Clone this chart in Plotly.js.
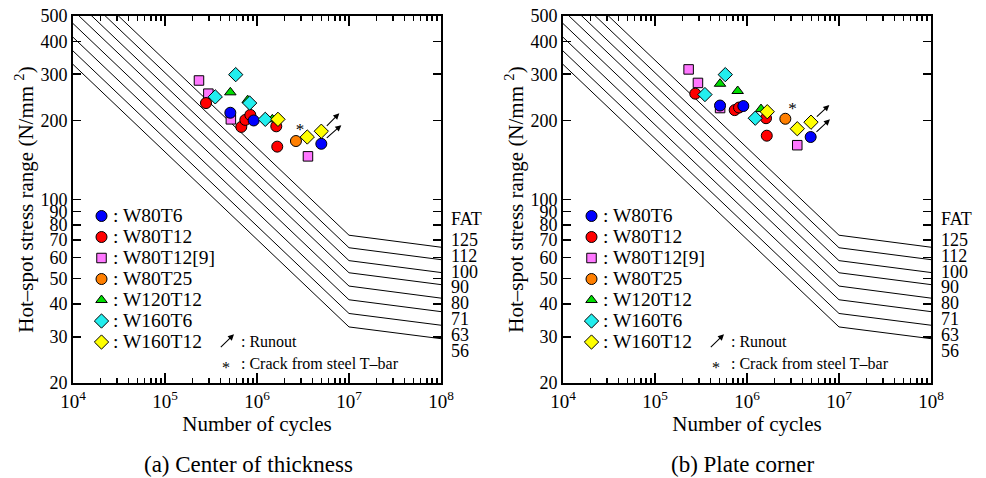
<!DOCTYPE html>
<html><head><meta charset="utf-8">
<script src="https://cdn.plot.ly/plotly-3.0.1.min.js"></script>
<style>html,body{margin:0;padding:0;background:#fff}</style>
</head><body><div id="chart" style="width:986px;height:478px"></div>
<script>
// ---------- data ----------
const seriesNames = ['W80T6','W80T12','W80T12[9]','W80T25','W120T12','W160T6','W160T12'];
// (a) Center of thickness
const a_W80T6_N   = [5.13e5, 9.2e5, 5.0e6];
const a_W80T6_S   = [214, 200, 163];
const a_W80T12_N  = [2.79e5, 6.75e5, 7.46e5, 8.46e5, 1.62e6, 1.66e6];
const a_W80T12_S  = [233, 189, 201, 210, 190, 159];
const a_W80T12r_N = [2.34e5, 2.96e5, 5.2e5, 3.58e6];
const a_W80T12r_S = [284, 253, 202, 146];
const a_W80T25_N  = [2.65e6];
const a_W80T25_S  = [167];
const a_W120T12_N = [5.13e5, 7.92e5, 1.47e6];
const a_W120T12_S = [256, 239, 202];
const a_W160T6_N  = [3.52e5, 5.87e5, 8.32e5, 1.23e6];
const a_W160T6_S  = [246, 299, 233, 202];
const a_W160T12_N = [1.69e6, 3.52e6, 5.0e6];
const a_W160T12_S = [202, 173, 182];
const a_runoutN = [7.85e6, 8.25e6];
const a_runoutS = [213, 192];
const a_crackN = [2.93e6];
const a_crackS = [183.5];
// (b) Plate corner
const b_W80T6_N   = [5.09e5, 9.12e5, 4.92e6];
const b_W80T6_S   = [228, 227, 173];
const b_W80T12_N  = [2.74e5, 7.35e5, 8.19e5, 1.61e6, 1.64e6];
const b_W80T12_S  = [253, 219, 224, 204, 175];
const b_W80T12r_N = [2.32e5, 2.93e5, 5.1e5, 3.52e6];
const b_W80T12r_S = [313, 278, 223, 161];
const b_W80T25_N  = [2.61e6];
const b_W80T25_S  = [203];
const b_W120T12_N = [5.09e5, 7.92e5, 1.42e6];
const b_W120T12_S = [276, 259, 221];
const b_W160T6_N  = [3.49e5, 5.81e5, 1.23e6];
const b_W160T6_S  = [251, 299, 204];
const b_W160T12_N = [1.66e6, 3.52e6, 4.96e6];
const b_W160T12_S = [216, 186, 197];
const b_runoutN = [7.85e6, 7.98e6];
const b_runoutS = [229, 202];
const b_crackN = [3.12e6];
const b_crackS = [220.6];
// FAT design curves (IIW) : stress range at N = 1e4, 1e7, 1e8
const fatClasses = [125, 112, 100, 90, 80, 71, 63, 56];
const fatN = [1e4, 1e7, 1e8];
const fatS_1e4 = [731, 655, 585, 526, 468, 415, 368, 327];
const fatS_1e7 = [73.1, 65.5, 58.5, 52.6, 46.8, 41.5, 36.8, 32.7];
const fatS_1e8 = [65.8, 59.0, 52.7, 47.4, 42.1, 37.4, 33.2, 29.5];
const yTickVals = [20,30,40,50,60,70,80,90,100,200,300,400,500];
const xTickVals = [1e4,1e5,1e6,1e7,1e8];
const xTickText = ['10<sup>4</sup>','10<sup>5</sup>','10<sup>6</sup>','10<sup>7</sup>','10<sup>8</sup>'];

// ---------- styles ----------
const FONT = "'Liberation Serif', 'Times New Roman', 'DejaVu Serif', serif";
const styles = {
  'W80T6':     {symbol:'circle',        color:'#0000ff', size:11, rank:1},
  'W80T12':    {symbol:'circle',        color:'#ff0000', size:11, rank:2},
  'W80T12[9]': {symbol:'square',        color:'#ff77ff', size:9.5, rank:3},
  'W80T25':    {symbol:'circle',        color:'#ff7f00', size:11, rank:4},
  'W120T12':   {symbol:'triangle-up',   color:'#00dd00', size:10, rank:5},
  'W160T6':    {symbol:'diamond',       color:'#22eeee', size:11, rank:6},
  'W160T12':   {symbol:'diamond',       color:'#ffff00', size:11, rank:7}
};
// draw order (bottom -> top)
const drawOrder = ['W80T12[9]','W80T12','W80T6','W80T25','W120T12','W160T6','W160T12'];

const dataA = {
  'W80T6':[a_W80T6_N,a_W80T6_S], 'W80T12':[a_W80T12_N,a_W80T12_S], 'W80T12[9]':[a_W80T12r_N,a_W80T12r_S],
  'W80T25':[a_W80T25_N,a_W80T25_S], 'W120T12':[a_W120T12_N,a_W120T12_S], 'W160T6':[a_W160T6_N,a_W160T6_S],
  'W160T12':[a_W160T12_N,a_W160T12_S]
};
const dataB = {
  'W80T6':[b_W80T6_N,b_W80T6_S], 'W80T12':[b_W80T12_N,b_W80T12_S], 'W80T12[9]':[b_W80T12r_N,b_W80T12r_S],
  'W80T25':[b_W80T25_N,b_W80T25_S], 'W120T12':[b_W120T12_N,b_W120T12_S], 'W160T6':[b_W160T6_N,b_W160T6_S],
  'W160T12':[b_W160T12_N,b_W160T12_S]
};

const traces = [];
[['x','y',dataA,'legend'],['x2','y2',dataB,'legend2']].forEach(([xa,ya,d,lg])=>{
  fatClasses.forEach((f,i)=>{
    traces.push({x:fatN, y:[fatS_1e4[i],fatS_1e7[i],fatS_1e8[i]], xaxis:xa, yaxis:ya, mode:'lines',
      line:{color:'black', width:1}, showlegend:false, hoverinfo:'skip'});
  });
  drawOrder.forEach(name=>{
    const s = styles[name];
    // legend shows the symbol; its label is drawn as a larger text next to it
    traces.push({x:d[name][0], y:d[name][1], xaxis:xa, yaxis:ya, mode:'markers', name:' ',
      legend:lg, legendrank:s.rank, cliponaxis:false,
      marker:{symbol:s.symbol, color:s.color, size:s.size, line:{color:'black', width:1}}});
  });
});
traces.push({x:a_crackN, y:a_crackS, xaxis:'x', yaxis:'y', mode:'text', text:a_crackN.map(()=>'*'),
  textfont:{size:17, color:'black', family:FONT}, textposition:'middle center', showlegend:false});
traces.push({x:b_crackN, y:b_crackS, xaxis:'x2', yaxis:'y2', mode:'text', text:b_crackN.map(()=>'*'),
  textfont:{size:17, color:'black', family:FONT}, textposition:'middle center', showlegend:false});

// ---------- axes ----------
const minorVals = [];
for (let e=4;e<8;e++) for (let k=2;k<=9;k++) minorVals.push(k*Math.pow(10,e));
function xAxis(domain, anchor){
  return {type:'log', domain:domain, anchor:anchor, range:[4,8],
    tickmode:'array', tickvals:xTickVals, ticktext:xTickText,
    ticks:'inside', ticklen:10, tickwidth:1.5, tickcolor:'black',
    minor:{tickmode:'array', tickvals:minorVals, ticks:'inside', ticklen:5, tickwidth:1.5, tickcolor:'black', showgrid:false},
    showline:true, linewidth:2, linecolor:'black', mirror:'allticks',
    showgrid:false, zeroline:false, tickfont:{size:19, family:FONT},
    title:{text:'Number of cycles', font:{size:21, family:FONT}, standoff:0}};
}
function yAxis(anchor){
  return {type:'log', anchor:anchor, domain:[0,1], range:[Math.log10(20), Math.log10(500)],
    tickmode:'array', tickvals:yTickVals, ticktext:yTickVals.map(String),
    ticks:'inside', ticklen:8, tickwidth:1.5, tickcolor:'black',
    showline:true, linewidth:2, linecolor:'black', mirror:'allticks',
    showgrid:false, zeroline:false, tickfont:{size:18, family:FONT},
    title:{text:'Hot–spot stress range (N/mm <sup>2</sup>)', font:{size:21, family:FONT}, standoff:1}};
}

// ---------- annotations ----------
const L = 73, R = 931, T = 16, B = 383;
const px = v => (v - L) / (R - L);
const py = v => (B - v) / (B - T);
const ann = [];
function runout(xr, yr, N, S, ax, ay){
  N.forEach((n,i)=>ann.push({xref:xr, yref:yr, x:Math.log10(n), y:Math.log10(S[i]), ax:ax[i], ay:ay[i],
    axref:'pixel', ayref:'pixel', text:'', showarrow:true, arrowhead:2, arrowsize:1.1, arrowwidth:1.1, arrowcolor:'black'}));
}
runout('x','y',a_runoutN,a_runoutS,[-14,-16],[14,14]);
runout('x2','y2',b_runoutN,b_runoutS,[-14,-15],[13,14]);
const LEG_TOP = 215.7, LEG_STEP = 21;
[0, 490].forEach(off=>{
  seriesNames.forEach((nm,i)=>ann.push({xref:'paper', yref:'paper', x:px(111+off), y:py(LEG_TOP + i*LEG_STEP),
    xanchor:'left', yanchor:'middle', text:': '+nm, showarrow:false, font:{size:19.5, family:FONT}}));
  ann.push({xref:'paper', yref:'paper', x:px(234+off), y:py(334.3), ax:-14.7, ay:14.4, axref:'pixel', ayref:'pixel',
    text:'', showarrow:true, arrowhead:2, arrowsize:1.1, arrowwidth:1.1, arrowcolor:'black'});
  ann.push({xref:'paper', yref:'paper', x:px(239+off), y:py(341.7), xanchor:'left', yanchor:'middle',
    text:': Runout', showarrow:false, font:{size:16, family:FONT}});
  ann.push({xref:'paper', yref:'paper', x:px(225.7+off), y:py(367), xanchor:'center', yanchor:'middle',
    text:'*', showarrow:false, font:{size:16, family:FONT}});
  ann.push({xref:'paper', yref:'paper', x:px(239+off), y:py(363), xanchor:'left', yanchor:'middle',
    text:': Crack from steel T–bar', showarrow:false, font:{size:16, family:FONT}});
  ann.push({xref:'paper', yref:'paper', x:px(449+off), y:py(219), xanchor:'left', yanchor:'middle',
    text:'FAT', showarrow:false, font:{size:18, family:FONT}});
  fatClasses.forEach((f,i)=>ann.push({xref:'paper', yref:'paper', x:px(449+off), y:py(240 + i*15.8),
    xanchor:'left', yanchor:'middle', text:String(f), showarrow:false, font:{size:18, family:FONT}}));
});
ann.push({xref:'paper', yref:'paper', x:px(248), y:py(464), xanchor:'center', yanchor:'middle',
  text:'(a) Center of thickness', showarrow:false, font:{size:23, family:FONT}});
ann.push({xref:'paper', yref:'paper', x:px(742), y:py(464), xanchor:'center', yanchor:'middle',
  text:'(b) Plate corner', showarrow:false, font:{size:23, family:FONT}});

const legendBase = {y:py(200.5), xanchor:'left', yanchor:'top', bgcolor:'rgba(0,0,0,0)', borderwidth:0,
  font:{size:13.85, family:FONT}, itemwidth:30, traceorder:'normal', tracegroupgap:0};

const layout = {
  width:986, height:478,
  margin:{l:L, r:986-R, t:T, b:478-B},
  paper_bgcolor:'white', plot_bgcolor:'white',
  font:{family:FONT, color:'black'},
  showlegend:true,
  legend:Object.assign({x:px(81.5)}, legendBase),
  legend2:Object.assign({x:px(571.5)}, legendBase),
  xaxis:xAxis([0, px(441)], 'y'),
  yaxis:yAxis('x'),
  xaxis2:xAxis([px(563), 1], 'y2'),
  yaxis2:yAxis('x2'),
  annotations:ann
};
Plotly.newPlot('chart', traces, layout, {displayModeBar:false, staticPlot:true});
</script></body></html>
